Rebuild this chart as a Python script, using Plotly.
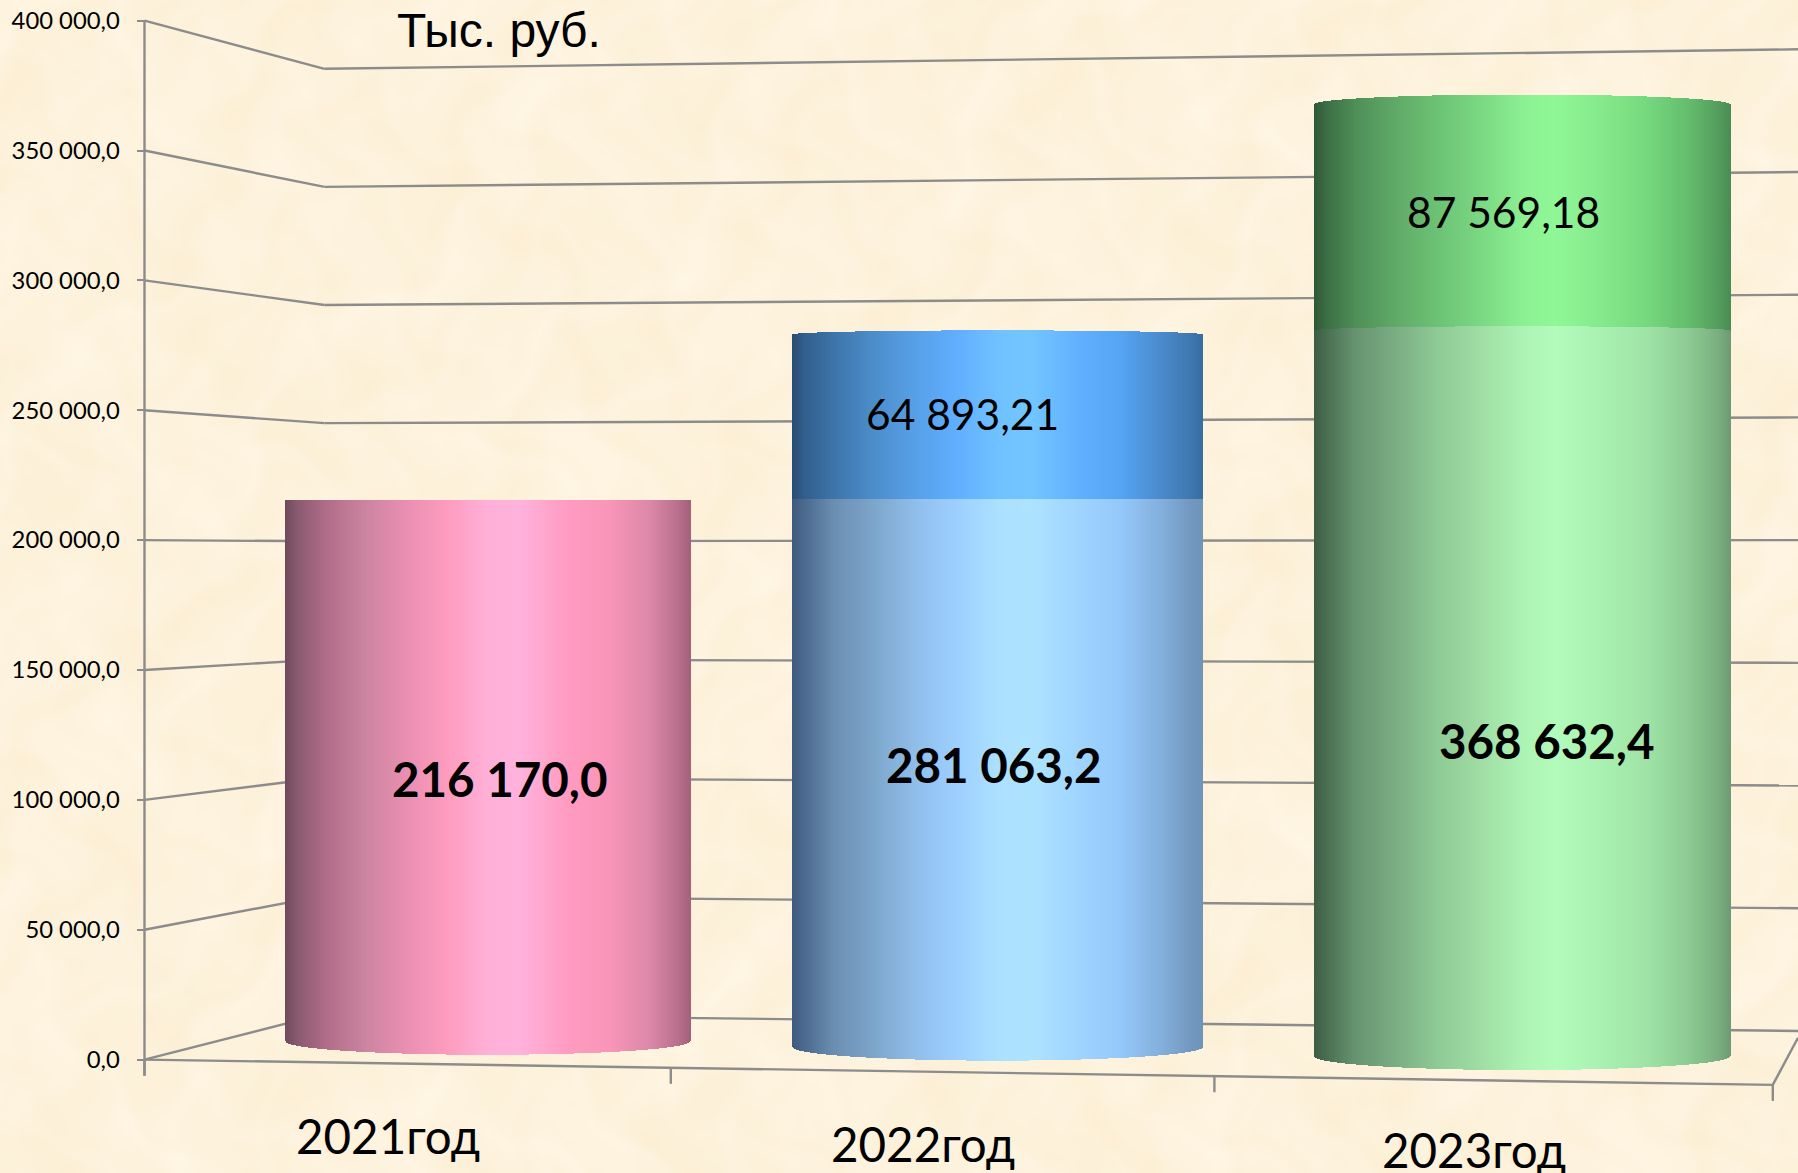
import base64
import struct
import zlib

import numpy as np
import plotly.graph_objects as go

# ---------- data ----------
categories = ["2021год", "2022год", "2023год"]
lower_values = [216170.0, 216170.0, 281063.2]
upper_values = [0.0, 64893.21, 87569.18]
total_labels = ["216 170,0", "281 063,2", "368 632,4"]
upper_labels = [None, "64 893,21", "87 569,18"]
y_ticks = [0, 50000, 100000, 150000, 200000, 250000, 300000, 350000, 400000]
y_tick_labels = ["0,0", "50 000,0", "100 000,0", "150 000,0", "200 000,0",
                 "250 000,0", "300 000,0", "350 000,0", "400 000,0"]
unit_title = "Тыс. руб."

# ---------- view geometry (oblique 3-D look) ----------
W, H = 1798, 1173
Y0_PX, PX_50K = 1059.6, 129.87
y_range = [(Y0_PX - H) / PX_50K * 50000, Y0_PX / PX_50K * 50000]
GRID = "#8c8c8c"
BG = "#fdf2dc"
AX_X, BACK_X, CORNER_X = 144.5, 324.5, 1772.8
BASE_END = -9713
TICK_DROP = 6180

def back_left(v): return 17660 + 0.9095 * v
def back_right(v): return 11038 + 0.9448 * v

cyl_left = [285.5, 792.4, 1314.1]
cyl_right = [690.3, 1202.9, 1730.4]
cyl_base = [7064, 4857, 1325]
cyl_scale = [0.964, 0.976, 0.994]
HORIZON, BULGE = 215453, 0.025

cat_ticks_x = [144.5, 670.8, 1214.4, 1772.8]

def hexrgb(h): return [int(h[i:i + 2], 16) for i in (1, 3, 5)]
STOPS = [0, .03, .1, .2, .3, .4, .5, .58, .7, .8, .9, .97, 1]
ramps_lower = [
    ["#704a5c", "#8a5a70", "#b06c88", "#cc85a0", "#ea8fb2", "#fd9cbe", "#ffb0d8",
     "#ffb2dc", "#ff9bc0", "#f995b8", "#dc88a8", "#b86f8c", "#a5607a"],
    ["#3f5b7c", "#4a6a8e", "#6a8eb0", "#7da6cb", "#8fbeea", "#9dcfff", "#ace0ff",
     "#aee3ff", "#9fd4ff", "#94c8fa", "#83afdb", "#7298c0", "#6e94ba"],
    ["#3d5c45", "#4a6e52", "#669470", "#7cae84", "#8fcb96", "#9fdda4", "#adf3b4",
     "#b3fbbb", "#a8f0af", "#9fe3a6", "#8ccb92", "#7aaf80", "#6e9a74"],
]
ramps_upper = [
    None,
    ["#2a4c72", "#315f8e", "#3d74aa", "#4c8ecb", "#57a0e8", "#60aeff", "#6fc2ff",
     "#72c6ff", "#60b0ff", "#55a4f5", "#4a8aca", "#3e78b0", "#376da0"],
    ["#2f5836", "#3c6e44", "#4f8f58", "#60ab68", "#6dc375", "#7ad882", "#8bf092",
     "#90f797", "#84e88a", "#76d87e", "#64bc6c", "#559d5e", "#4a8c53"],
]

def strip_colors(ramp, t):
    rgb = np.array([hexrgb(c) for c in ramp], float)
    out = np.stack([np.interp(t, STOPS, rgb[:, k]) for k in range(3)], axis=1)
    return ["rgb(%d,%d,%d)" % tuple(row) for row in out.round().astype(int)]

def paper_texture():
    """Faint parchment mottling, made of a few crossed waves (purely decorative)."""
    h, w = H // 3, W // 3
    yy, xx = np.mgrid[0:h, 0:w].astype(float)
    wx = xx + 9 * np.sin(yy / 17.0) + 5 * np.sin(yy / 5.3)
    wy = yy + 9 * np.sin(xx / 13.0) + 5 * np.sin(xx / 4.7)
    n = (np.sin(wx / 6.1) * np.sin(wy / 7.3) + 0.7 * np.sin(wx / 3.1 + 1.3) * np.sin(wy / 4.1 + 0.4)
         + 0.6 * np.sin((wx + wy) / 11.0) + 0.5 * np.sin((wx - wy) / 19.0))
    n = n / np.abs(n).max()
    base = np.array(hexrgb(BG), float)
    img = np.stack([base[0] + 1.5 * n, base[1] + 3.5 * n, base[2] + 8.0 * n], axis=2)
    img = np.clip(img.round(), 0, 255).astype(np.uint8)
    raw = b"".join(b"\x00" + img[r].tobytes() for r in range(h))
    def chunk(tag, data):
        return struct.pack(">I", len(data)) + tag + data + struct.pack(">I", zlib.crc32(tag + data))
    png = (b"\x89PNG\r\n\x1a\n" + chunk(b"IHDR", struct.pack(">IIBBBBB", w, h, 8, 2, 0, 0, 0))
           + chunk(b"IDAT", zlib.compress(raw, 9)) + chunk(b"IEND", b""))
    return "data:image/png;base64," + base64.b64encode(png).decode()

fig = go.Figure()

def curve(v, shape):
    return v + BULGE * (v - HORIZON) * shape

for i in range(3):
    xs = np.arange(np.floor(cyl_left[i]), np.ceil(cyl_right[i])) + 0.5
    t = (xs - cyl_left[i]) / (cyl_right[i] - cyl_left[i])
    shape = np.sqrt(np.clip(1 - (2 * t - 1) ** 2, 0, 1))
    v0 = cyl_base[i]
    v1 = v0 + cyl_scale[i] * lower_values[i]
    y0, y1 = curve(v0, shape), curve(v1, shape)
    fig.add_bar(x=xs, y=y1 - y0, base=y0, width=1.0,
                marker=dict(color=strip_colors(ramps_lower[i], t), line_width=0),
                hoverinfo="skip", showlegend=False)
    if upper_values[i] > 0:
        v2 = v1 + cyl_scale[i] * upper_values[i]
        y2 = curve(v2, shape)
        fig.add_bar(x=xs, y=y2 - y1, base=y1, width=1.0,
                    marker=dict(color=strip_colors(ramps_upper[i], t), line_width=0),
                    hoverinfo="skip", showlegend=False)

# walls and gridlines go beneath the cylinders
shapes = []
def seg(x0, y0, x1, y1):
    shapes.append(dict(type="line", xref="x", yref="y", x0=x0, y0=y0, x1=x1, y1=y1,
                       layer="below", line=dict(color=GRID, width=2.4)))
for v in y_ticks:
    seg(AX_X, v, BACK_X, back_left(v))
    seg(BACK_X, back_left(v), W, back_right(v))
seg(AX_X, -TICK_DROP, AX_X, y_ticks[-1])
seg(AX_X, 0, CORNER_X, BASE_END)
seg(CORNER_X, BASE_END, W, 8389)
for cx in cat_ticks_x:
    yy = BASE_END * (cx - AX_X) / (CORNER_X - AX_X)
    seg(cx, yy, cx, yy - TICK_DROP)

anns = []
def txt(x, y, s, size, family="Lato", bold=False):
    anns.append(dict(x=x, y=y, xref="x", yref="y", text="<b>%s</b>" % s if bold else s,
                     showarrow=False, xanchor="center", yanchor="middle",
                     font=dict(family=family, size=size, color="#000000")))
def vy(y_shrunk): return (924 - y_shrunk) / 113.25 * 50000

for cat, x, y in zip(categories, [388, 923, 1474], [990, 997, 1002]):
    txt(x, vy(y), cat, 47.5)
for s, x, y in zip(total_labels, [500, 994, 1547], [679, 667, 646]):
    txt(x, vy(y), s, 47.5, bold=True)
for s, x, y in zip(upper_labels, [0, 962, 1503], [0, 361, 184]):
    if s:
        txt(x, vy(y), s, 42.5)
txt(499, vy(27), unit_title, 48, family="Liberation Sans")

fig.update_layout(
    width=W, height=H, margin=dict(l=0, r=0, t=0, b=0), showlegend=False,
    paper_bgcolor=BG, plot_bgcolor="rgba(0,0,0,0)", barmode="overlay", bargap=0,
    shapes=shapes, annotations=anns,
    images=[dict(source=paper_texture(), xref="paper", yref="paper", x=0, y=1, sizex=1, sizey=1,
                 xanchor="left", yanchor="top", sizing="stretch", layer="below")],
    xaxis=dict(range=[0, W], visible=False, fixedrange=True, domain=[0, 1]),
    yaxis=dict(range=y_range, anchor="free", position=AX_X / W, showgrid=False, zeroline=False,
               tickvals=y_ticks, ticktext=y_tick_labels, ticks="outside", ticklen=8, tickwidth=2.4,
               tickcolor=GRID, showline=False, ticklabelstandoff=12,
               tickfont=dict(family="Lato", size=23.8, color="#000000"), fixedrange=True),
)
fig.write_html("out.html", config=dict(displayModeBar=False),
               post_script="document.body.style.margin='0';document.documentElement.style.overflow='hidden';")
